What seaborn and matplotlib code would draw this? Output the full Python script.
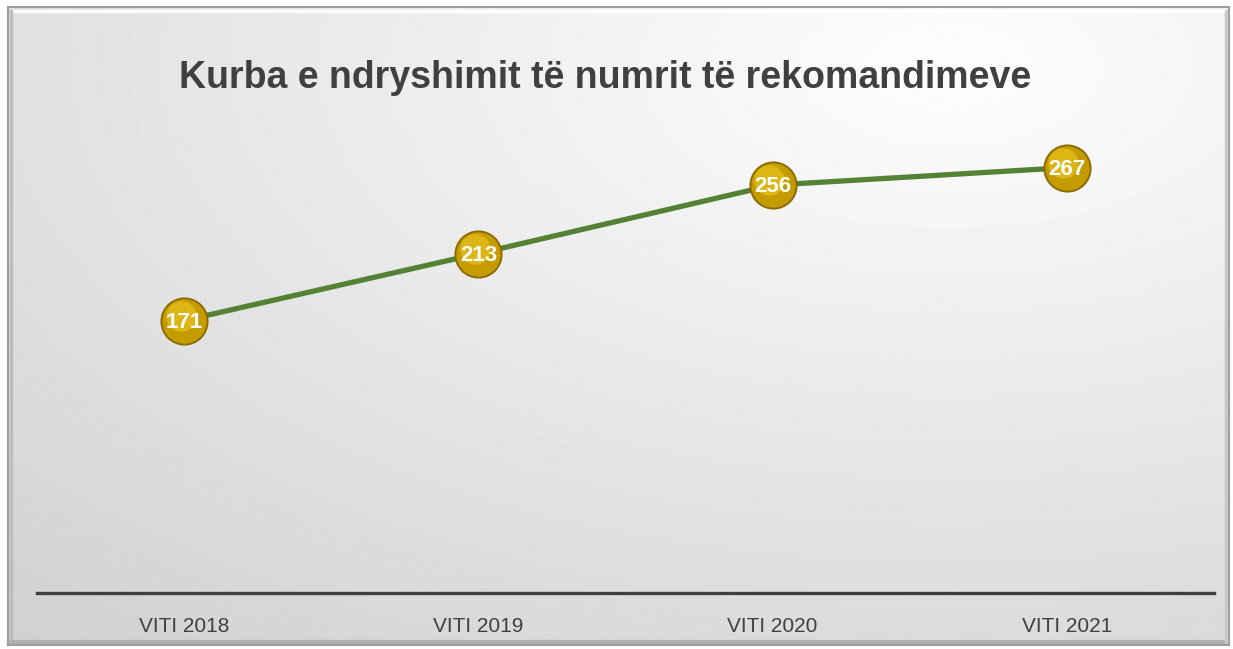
import numpy as np
import pandas as pd
import matplotlib
matplotlib.use("Agg")
import matplotlib.pyplot as plt
import seaborn as sns
from matplotlib.patches import Rectangle

# data
years = ["VITI 2018", "VITI 2019", "VITI 2020", "VITI 2021"]
counts = [171, 213, 256, 267]
title = "Kurba e ndryshimit të numrit të rekomandimeve"

sns.set_theme(style="white")
plt.rcParams["font.family"] = ["Liberation Sans", "DejaVu Sans"]

W, H = 1233, 649
fig = plt.figure(figsize=(W / 100, H / 100), dpi=100)
fig.patch.set_facecolor("white")

# background: soft radial gradient inside a bevelled frame
bg = fig.add_axes([0, 0, 1, 1], zorder=0)
bg.set_xlim(0, W)
bg.set_ylim(H, 0)
bg.axis("off")
yy, xx = np.mgrid[0:H, 0:W]
d = np.sqrt(((xx - 950) / W) ** 2 + ((yy - 60) / H) ** 2)
shade = np.clip(0.995 - 0.15 * d, 0.80, 1.0)
bg.imshow(shade, cmap="gray", vmin=0, vmax=1, extent=(8, 1229, 645, 7),
          aspect="auto", interpolation="bilinear")
bg.add_patch(Rectangle((8, 7), 1221, 638, fill=False, ec="#9c9c9c", lw=1.5))
bg.plot([11, 1226], [11, 11], color="white", lw=2.5, alpha=0.9)
bg.plot([11, 11], [11, 642], color="#bdbdbd", lw=2.5)
bg.plot([11, 1226], [642, 642], color="#b0b0b0", lw=3)
bg.plot([1226, 1226], [11, 642], color="#c8c8c8", lw=2.5)

# main plot area
ax = fig.add_axes([37 / W, (H - 593) / H, 1177 / W, (593 - 115) / H], zorder=1)
ax.set_facecolor("none")
df = pd.DataFrame({"year": years, "count": counts})
x = np.arange(len(years))
sns.lineplot(x=x, y=df["count"], ax=ax, color="#548235", lw=3.8, zorder=2)
ax.scatter(x, df["count"], s=1200, color="#8a6a00", zorder=3, lw=0)
ax.scatter(x, df["count"], s=1020, color="#c49b00", zorder=4, lw=0)
ax.scatter(x - 0.012, df["count"] + 3, s=480, color="#e0bc18", zorder=5, lw=0, alpha=0.85)
for xi, v in zip(x, df["count"]):
    ax.text(xi, v - 1, str(v), ha="center", va="center", color="white",
            fontsize=16, fontweight="bold", zorder=6)

ax.set_xlim(-0.5, len(years) - 0.5)
ax.set_ylim(0, 300)
ax.set_xticks(x)
ax.set_xticklabels(years, fontsize=15, color="#404040")
ax.tick_params(axis="x", length=0, pad=17)
ax.set_yticks([])
ax.set_xlabel("")
ax.set_ylabel("")
for side in ["top", "right", "left"]:
    ax.spines[side].set_visible(False)
ax.spines["bottom"].set_color("#404040")
ax.spines["bottom"].set_linewidth(2.4)

fig.text(605 / W, 1 - 78 / H, title, ha="center", va="center",
         fontsize=27, fontweight="bold", color="#404040")

fig.savefig("out.png", dpi=100)
